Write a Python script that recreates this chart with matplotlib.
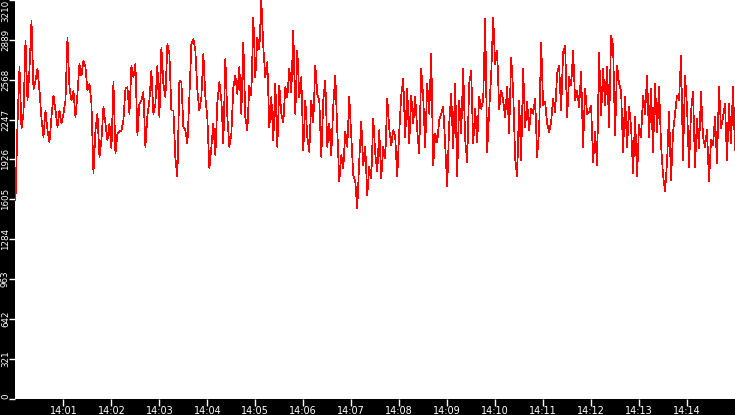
import numpy as np
import matplotlib
matplotlib.use('Agg')
import matplotlib.pyplot as plt
import matplotlib.dates as mdates

# ---- data (sampled every 2.5 s starting 14:00:00) ----
start_time = '2024-01-01T14:00:00'
step_ms = 2500

vals_part1 = [1600, 2214, 2668, 2174, 2294, 2882, 2401, 2655, 3042, 2494,
              2561, 2655, 2481, 2254, 2107, 2321, 2161, 2067, 2268, 2441,
              2321, 2187, 2321, 2214, 2294, 2401, 2908, 2508, 2401, 2481,
              2268, 2454, 2695, 2601, 2721, 2668, 2481, 2534, 2374, 1814,
              2161, 2294, 1947, 2081, 2348, 2214, 2081, 2214, 2014, 2548,
              1974, 2134, 2147, 2161, 2241, 2494, 2508, 2294, 2681, 2588,
              2695, 2121, 2374, 2401, 2468, 2027, 2281, 2401, 2641, 2294,
              2374, 2681, 2268, 2828, 2534, 2428, 2855, 2775, 2321, 2321,
              1934, 1787, 2561, 2548, 2187, 2161, 2054, 2428, 2855, 2895,
              2801, 2481, 2321]
vals_part2 = [2428, 2775, 2428, 2254, 1854, 2027, 2214, 1960, 2388, 2548,
              2401, 2054, 2735, 2268, 2027, 2134, 2508, 2601, 2454, 2668,
              2294, 2868, 2268, 2161, 2521, 2441, 3068, 2588, 2908, 2815,
              3202, 2828, 2588, 2708, 2187, 2428, 2081, 2534, 2027, 2521,
              2294, 2227, 2508, 2428, 2655, 2468, 2962, 2294, 2801, 2428,
              2588, 2000, 2401, 2107, 1987, 2401, 2227, 2681, 2454, 2401]
vals_part3 = [1947, 2401, 2561, 2027, 2214, 1960, 2361, 2601, 2161, 1747,
              1960, 1854, 2147, 2027, 2428, 2107, 1800, 1747, 1533, 1920,
              2227, 1880, 2027, 1640, 1867, 1774, 2254, 1974, 1827, 2161,
              1774, 2027, 1934, 2414, 2174, 2041, 2161, 2107, 1787, 2147,
              2441, 2575, 2107, 2494, 2054, 2441, 2214, 2428, 2161, 1974,
              2655, 2428, 2027, 2534, 2294, 2775, 1880, 2134, 2067, 2241]
vals_part4 = [2294, 2348, 2041, 1707, 2214, 2454, 2014, 2534, 1787, 2401,
              2134, 2655, 2081, 1907, 2534, 2641, 2054, 2334, 2067, 2428,
              2334, 2401, 3055, 1987, 2321, 2601, 3068, 2695, 2801, 2334,
              2481, 2401, 2268, 2508, 2134, 2748, 2481, 1934, 1787, 2401,
              1920, 2655, 2187, 2388, 2161, 2334, 2294, 2414, 1947, 2161,
              2868, 2361, 2388, 2214, 2147, 2227, 2414, 2308, 2615, 2681]
vals_part5 = [2321, 2788, 2842, 2268, 2588, 2521, 2801, 2401, 2481, 2348,
              2628, 2027, 2494, 2294, 2308, 2361, 1907, 2147, 1880, 2788,
              2281, 2655, 2361, 2668, 2187, 2922, 2842, 2121, 2681, 2534,
              2481, 1987, 2428, 2027, 2348, 2187, 1814, 2268, 1787, 2201,
              2107, 2441, 2294, 2601, 2107, 2494, 1987, 2534, 2147, 2508,
              2041, 1800, 1667, 1907, 2308, 1760, 2147, 2294, 2441, 2401]
vals_part6 = [2761, 1920, 2601, 2348, 1867, 2308, 2468, 1867, 2254, 2014,
              2468, 2107, 2027, 2161, 1747, 2081, 2041, 2268, 1894, 2508,
              2174, 2268, 2374, 1920, 2374, 2054, 2508, 2000]

y_ticks = [0, 321, 642, 963, 1284, 1605, 1926, 2247, 2568, 2889, 3210]

values = np.array(vals_part1 + vals_part2 + vals_part3 + vals_part4 + vals_part5 + vals_part6)
t0 = np.datetime64(start_time)
times = t0 + np.arange(len(values)) * np.timedelta64(step_ms, 'ms')

W, H = 735, 415
fig = plt.figure(figsize=(W / 100, H / 100), dpi=100, facecolor='black')
ax = fig.add_axes([15.5 / W, 16.5 / H, 719.5 / W, 398.5 / H])
ax.set_facecolor('white')

ax.plot(times, values, color='#ff0000', linewidth=0.5, antialiased=False)

ax.set_xlim(t0, t0 + np.timedelta64(15, 'm'))
ax.set_ylim(0, 3210)

ax.xaxis.set_major_locator(mdates.MinuteLocator(byminute=range(1, 15)))
ax.xaxis.set_major_formatter(mdates.DateFormatter('%H:%M'))

for s in ax.spines.values():
    s.set_visible(False)

ax.tick_params(axis='x', colors='white', length=5, width=1, pad=0.5, labelsize=7, direction='out')
ax.tick_params(axis='y', colors='white', length=4, width=1, pad=0, labelsize=6.3, direction='out')

ax.set_yticks(y_ticks)
ax.set_yticklabels([str(v) for v in y_ticks], rotation=90, va='center')
ylabels = ax.get_yticklabels()
ylabels[0].set_va('bottom')
ylabels[-1].set_va('top')

fig.savefig('out.png', dpi=100, facecolor='black')
